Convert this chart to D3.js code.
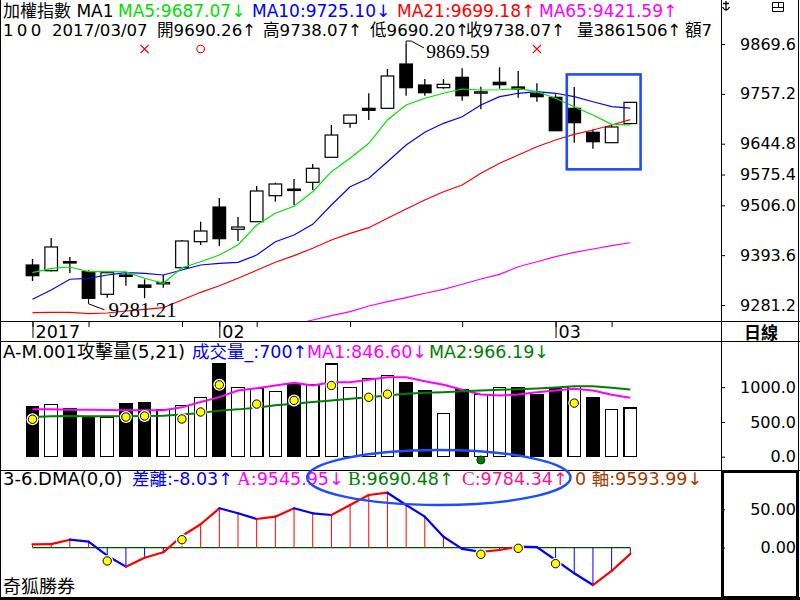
<!DOCTYPE html>
<html><head><meta charset="utf-8">
<script src="https://cdn.jsdelivr.net/npm/d3@7"></script>
<style>
body{margin:0;background:#fff}
svg{display:block}
text{white-space:pre}
</style>
</head><body>
<svg id="c" width="800" height="600"></svg>
<script>
// ---------- data ----------
const dateTickIdx = [0, 3, 8, 10, 12, 17, 23, 28, 31];
const monthStartIdx = [0, 10, 28];
const monthLabels = ["2017", "02", "03"];
const lastDate = "2017/03/07";

const opens  = [9371.4,9358.5,9379.0,9356.3,9305.3,9348.8,9326.3,9331.0,9365.3,9423.9,9502.1,9451.9,9469.0,9527.6,9542.5,9557.8,9614.2,9690.8,9724.6,9724.6,9824.5,9777.2,9771.1,9794.5,9761.0,9783.3,9772.7,9757.6,9749.4,9724.6,9670.5,9647.1,9690.26];
const highs  = [9384.9,9432.2,9389.4,9359.4,9354.5,9356.3,9339.1,9348.8,9427.7,9469.0,9522.4,9479.6,9549.5,9556.9,9565.3,9599.1,9687.0,9709.5,9758.5,9813.2,9869.59,9790.7,9790.7,9814.8,9773.3,9817.1,9808.7,9781.0,9756.2,9772.7,9677.3,9687.0,9738.07];
const lows   = [9335.3,9356.7,9353.3,9294.0,9297.7,9324.7,9296.5,9320.2,9365.3,9416.5,9414.2,9425.5,9469.0,9514.1,9506.6,9540.5,9614.2,9680.9,9698.3,9723.1,9753.0,9753.0,9768.8,9741.8,9722.4,9768.8,9748.5,9739.5,9674.1,9647.1,9633.6,9647.1,9690.20];
const closes = [9347.3,9412.0,9378.2,9296.3,9354.0,9348.1,9321.1,9332.0,9425.5,9448.0,9430.7,9457.0,9538.2,9554.0,9541.5,9589.4,9664.4,9709.5,9720.1,9797.5,9771.1,9759.8,9778.7,9753.0,9761.8,9777.8,9768.2,9750.8,9674.1,9692.2,9649.3,9682.5,9738.07];
const prevClose0 = 9390.0;

const ma5  = [9354.0,9363.9,9366.9,9356.3,9356.3,9356.0,9341.4,9330.1,9365.3,9378.8,9393.9,9416.5,9461.6,9487.9,9503.7,9536.6,9581.7,9611.9,9645.7,9698.3,9732.1,9747.2,9758.5,9768.2,9765.9,9766.5,9768.8,9762.1,9747.2,9728.3,9709.5,9688.6,9687.07];
const ma10 = [9294.1,9315.0,9339.2,9341.4,9348.8,9354.0,9352.7,9348.8,9360.1,9371.4,9375.2,9377.5,9393.9,9423.9,9439.0,9463.1,9506.6,9547.9,9566.8,9604.3,9641.9,9670.5,9690.8,9705.7,9732.1,9750.8,9758.5,9762.1,9758.5,9750.8,9739.5,9728.3,9725.10];
const ma21 = [9263.8,9264.7,9264.7,9261.6,9263.2,9267.7,9271.5,9275.1,9292.5,9309.8,9324.7,9341.4,9359.4,9377.5,9392.4,9409.0,9427.7,9442.8,9455.5,9476.7,9497.6,9517.9,9536.6,9551.7,9578.1,9600.6,9619.4,9638.1,9653.2,9666.0,9675.7,9687.0,9699.18];
const ma65 = [null,null,null,null,null,null,null,null,null,null,null,null,null,null,9237.3,9247.4,9257.1,9266.1,9279.0,9288.7,9297.7,9307.6,9316.6,9327.9,9339.8,9350.4,9367.5,9378.8,9390.1,9400.0,9407.5,9414.9,9421.59];

const priceTicks = [9869.6, 9757.2, 9644.8, 9575.4, 9506.0, 9393.6, 9281.2];
const highLabel = "9869.59";
const lowLabel = "9281.21";
const sigIdx = [6, 9, 27];
const sigType = ["x", "o", "x"];
const boxIdx = [28.6, 32.55];
const boxPrice = [9801, 9587];
const tradeVolume = "3861506";

const volumes = [724,749,691,577,563,767,781,677,734,849,1334,991,977,939,1049,1036,1334,991,1120,1165,1067,953,620,963,896,991,991,896,991,1014,849,677,700];
const volMA1 = [681,681,677,677,671,667,667,667,710,786,857,953,986,1024,1063,1024,1071,1071,1106,1143,1143,1086,1034,963,896,881,896,929,953,977,953,891,846.60];
const volMA2 = [571,581,586,581,581,581,586,591,606,629,663,681,706,739,763,786,810,834,857,881,906,920,929,943,953,963,971,981,996,1014,1014,991,966.19];
const volTicks = [1000, 500, 0];
const volDotIdx = [0,5,6,8,9,10,12,14,16,18,19,29];
const volDotVal = [539,571,586,543,643,1034,757,810,1024,855,900,771];
const volGreenDotIdx = [24];
const volGreenDotVal = [-47];

const dma = [4.4,4.6,10.4,7.8,-10.4,-24.7,-13.0,-6.0,15.2,30.5,51.3,44.8,37.4,40.4,51.3,44.8,42.6,55.6,68.6,71.6,55.6,40.4,14.3,-1.5,-5.5,-3.0,1.3,0.8,-16.0,-33.3,-48.6,-30.3,-8.03];
const dmaTicks = [50, 0];
const dmaMinorTicks = [37.5, 25];
const dmaDotIdx = [4, 8, 24, 26, 28];
const dmaDotVal = [-17.3, 10.4, -8.6, -0.8, -20.8];
const dmaA = 9545.95, dmaB = 9690.48, dmaC = 9784.34, dmaAxis = 9593.99;
const ellIdx = [14.7, 28.8];
const ellVal = [55.6, 127.2];

// ---------- setup ----------
const SANS = '"DejaVu Sans","Noto Sans CJK TC",sans-serif';
const SERIF = '"Liberation Serif","DejaVu Serif",serif';
const svg = d3.select("#c");
const n = closes.length;
const idx = d3.range(n);
const x = d3.scaleLinear().domain([0, 32]).range([32.5, 630.3]);
const yP = d3.scaleLinear().domain([9281.2, 9869.6]).range([305, 44]);
const yV = d3.scaleLinear().domain([0, 1000]).range([456.7, 387.2]);
const yD = d3.scaleLinear().domain([0, 50]).range([547.7, 509.3]);
const BW = 12.6;
const arr = (a, b) => a >= b ? "↑" : "↓";

svg.style("font-family", SANS);
svg.append("rect").attr("width", 800).attr("height", 600).attr("fill", "#fff");
const defs = svg.append("defs");
defs.append("clipPath").attr("id", "clipP").append("rect").attr("x", 0).attr("y", 0).attr("width", 721).attr("height", 321);
defs.append("clipPath").attr("id", "clipMain").append("rect").attr("x", 0).attr("y", 0).attr("width", 720).attr("height", 600);

// ---------- price panel ----------
const gP = svg.append("g").attr("clip-path", "url(#clipP)");
idx.forEach(i => {
  const cx = x(i), o = opens[i], c = closes[i];
  gP.append("line").attr("x1", cx).attr("x2", cx)
    .attr("y1", yP(highs[i])).attr("y2", yP(lows[i]))
    .attr("stroke", "#000").attr("stroke-width", 1.3);
  const top = yP(Math.max(o, c)), bot = yP(Math.min(o, c));
  gP.append("rect").attr("x", cx - BW / 2).attr("y", top)
    .attr("width", BW).attr("height", Math.max(bot - top, 1.4))
    .attr("fill", c > o ? "#fff" : "#000")
    .attr("stroke", "#000").attr("stroke-width", 1.2);
});

const maLine = d3.line().defined(d => d != null).x((d, i) => x(i)).y(d => yP(d));
[[ma21, "#ff0000"], [ma65, "#ff00ff"], [ma10, "#0000ff"], [ma5, "#00e600"]].forEach(([data, col]) => {
  gP.append("path").attr("d", maLine(data)).attr("fill", "none").attr("stroke", col).attr("stroke-width", 1.2);
});

// signal markers
sigIdx.forEach((si, k) => {
  const cx = x(si), cy = 49;
  if (sigType[k] === "x") {
    gP.append("path").attr("d", `M${cx-4},${cy-4}L${cx+4},${cy+4}M${cx+4},${cy-4}L${cx-4},${cy+4}`)
      .attr("stroke", "#ff0000").attr("stroke-width", 1.1);
  } else {
    gP.append("circle").attr("cx", cx).attr("cy", cy).attr("r", 3.8).attr("fill", "none")
      .attr("stroke", "#ff0000").attr("stroke-width", 1.1);
  }
});

// high / low labels
const hiI = d3.maxIndex(highs), loI = d3.minIndex(lows);
{
  const hx = x(hiI), hy = yP(highs[hiI]);
  gP.append("path").attr("d", `M${hx},${hy}L${hx},${hy-3}L${hx+5},${hy-3}L${hx+18},${hy+4}`)
    .attr("fill", "none").attr("stroke", "#000").attr("stroke-width", 1);
  gP.append("text").attr("x", hx + 20).attr("y", hy + 13.5).attr("font-size", 19.5)
    .style("font-family", SERIF).text(highLabel);
  const lx = x(loI), ly = yP(lows[loI]);
  gP.append("path").attr("d", `M${lx},${ly}L${lx},${ly+4.5}L${lx+16},${ly+10.5}`)
    .attr("fill", "none").attr("stroke", "#000").attr("stroke-width", 1);
  gP.append("text").attr("x", lx + 20).attr("y", ly + 18).attr("font-size", 21)
    .style("font-family", SERIF).text(lowLabel);
}

// annotation box
svg.append("rect").attr("x", x(boxIdx[0])).attr("y", yP(boxPrice[0]))
  .attr("width", x(boxIdx[1]) - x(boxIdx[0])).attr("height", yP(boxPrice[1]) - yP(boxPrice[0]))
  .attr("fill", "none").attr("stroke", "#1e4cff").attr("stroke-width", 2.6);

// ---------- volume panel ----------
const gV = svg.append("g");
idx.forEach(i => {
  const pc = i === 0 ? prevClose0 : closes[i - 1];
  const up = closes[i] >= pc;
  gV.append("rect").attr("x", x(i) - BW / 2).attr("y", yV(volumes[i]))
    .attr("width", BW).attr("height", yV(0) - yV(volumes[i]))
    .attr("fill", up ? "#fff" : "#000").attr("stroke", "#000").attr("stroke-width", 1.1)
    .attr("shape-rendering", "crispEdges");
});
const vLine = d3.line().x((d, i) => x(i)).y(d => yV(d));
gV.append("path").attr("d", vLine(volMA1)).attr("fill", "none").attr("stroke", "#ff00ff").attr("stroke-width", 2);
gV.append("path").attr("d", vLine(volMA2)).attr("fill", "none").attr("stroke", "#008000").attr("stroke-width", 2);
volDotIdx.forEach((di, k) => {
  gV.append("circle").attr("cx", x(di)).attr("cy", yV(volDotVal[k])).attr("r", 6).attr("fill", "#fff");
  gV.append("circle").attr("cx", x(di)).attr("cy", yV(volDotVal[k])).attr("r", 4.2)
    .attr("fill", "#ffff00").attr("stroke", "#000").attr("stroke-width", 1);
});
volGreenDotIdx.forEach((di, k) => {
  gV.append("circle").attr("cx", x(di)).attr("cy", yV(volGreenDotVal[k])).attr("r", 4)
    .attr("fill", "#008000").attr("stroke", "#003000").attr("stroke-width", 1);
});

// ---------- DMA panel ----------
const gD = svg.append("g");
gD.append("line").attr("x1", x(0)).attr("x2", x(n - 1)).attr("y1", yD(0)).attr("y2", yD(0))
  .attr("stroke", "#005000").attr("stroke-width", 1.2);
idx.forEach(i => {
  gD.append("line").attr("x1", x(i)).attr("x2", x(i)).attr("y1", yD(0)).attr("y2", yD(dma[i]))
    .attr("stroke", dma[i] >= 0 ? "#ff0000" : "#0000ff").attr("stroke-width", 1);
});
for (let i = 1; i < n; i++) {
  gD.append("line").attr("x1", x(i - 1)).attr("y1", yD(dma[i - 1])).attr("x2", x(i)).attr("y2", yD(dma[i]))
    .attr("stroke", dma[i] >= dma[i - 1] ? "#ff0000" : "#0000ff").attr("stroke-width", 2.2)
    .attr("stroke-linecap", "round");
}
dmaDotIdx.forEach((di, k) => {
  gD.append("circle").attr("cx", x(di)).attr("cy", yD(dmaDotVal[k])).attr("r", 6).attr("fill", "#fff");
  gD.append("circle").attr("cx", x(di)).attr("cy", yD(dmaDotVal[k])).attr("r", 4.2)
    .attr("fill", "#ffff00").attr("stroke", "#000").attr("stroke-width", 1);
});

// ---------- frames ----------
const frame = svg.append("g").attr("stroke", "#000").attr("shape-rendering", "crispEdges");
frame.append("line").attr("x1", 0.5).attr("x2", 0.5).attr("y1", 0).attr("y2", 600).attr("stroke-width", 1.5);
frame.append("line").attr("x1", 798.5).attr("x2", 798.5).attr("y1", 0).attr("y2", 600).attr("stroke-width", 1.5);
frame.append("line").attr("x1", 721.5).attr("x2", 721.5).attr("y1", 0).attr("y2", 600);
[321.5, 341.5, 470.5].forEach(yy => frame.append("line").attr("x1", 0).attr("x2", 800).attr("y1", yy).attr("y2", yy));
frame.append("line").attr("x1", 0).attr("x2", 800).attr("y1", 598.5).attr("y2", 598.5).attr("stroke-width", 3);
frame.append("rect").attr("x", 722.5).attr("y", 471.5).attr("width", 75).attr("height", 125.5)
  .attr("fill", "none").attr("stroke-width", 3);

// ---------- axes ----------
function styleRight(g) {
  g.select(".domain").remove();
  g.attr("font-family", null).attr("font-size", null);
  g.selectAll("line").attr("stroke", "#000");
  g.selectAll("text").attr("x", 75).attr("text-anchor", "end").attr("font-size", 16).attr("fill", "#000");
}
svg.append("g").attr("transform", "translate(721,0)")
  .call(d3.axisRight(yP).tickValues(priceTicks).tickSize(4).tickFormat(d3.format(".1f")))
  .call(styleRight);
svg.append("g").attr("transform", "translate(721,0)")
  .call(d3.axisRight(yV).tickValues(volTicks).tickSize(4).tickFormat(d3.format(".1f")))
  .call(styleRight);
svg.append("g").attr("transform", "translate(721,0)")
  .call(d3.axisRight(yD).tickValues(dmaTicks).tickSize(4).tickFormat(d3.format(".2f")))
  .call(styleRight);
svg.append("g").attr("transform", "translate(721,0)")
  .call(d3.axisRight(yD).tickValues(dmaMinorTicks).tickSize(2).tickFormat(""))
  .call(g => { g.select(".domain").remove(); g.selectAll("line").attr("stroke", "#000"); });

// date axis
svg.append("g").attr("transform", "translate(0,321)")
  .call(d3.axisBottom(x).tickValues(dateTickIdx).tickSize(6).tickFormat(""))
  .call(g => { g.select(".domain").remove(); g.selectAll("line").attr("stroke", "#000"); });
svg.append("g").attr("transform", "translate(0,321)")
  .call(d3.axisBottom(x).tickValues(monthStartIdx).tickSize(17).tickFormat((d, i) => monthLabels[i]))
  .call(g => {
    g.select(".domain").remove(); g.attr("font-family", null).attr("font-size", null);
    g.selectAll("line").attr("stroke", "#000");
    g.selectAll("text").attr("x", 2.5).attr("y", 16.5).attr("dy", 0).attr("text-anchor", "start")
      .attr("font-size", 17.5).attr("fill", "#000");
  });

svg.append("text").attr("x", 761).attr("y", 339).attr("text-anchor", "middle").attr("font-size", 17)
  .attr("font-weight", "bold").text("日線");

// icons
svg.append("path").attr("d", "M726,1V10M723,3.5H729M722.5,7Q726,13 729.5,7").attr("fill", "none").attr("stroke", "#000").attr("stroke-width", 1.3);
svg.append("path").attr("d", "M772.5,2.5H783.5V11.5H772.5ZM772.5,7.5H783.5M778.5,2.5V7.5").attr("fill", "none").attr("stroke", "#000").attr("stroke-width", 1);

// ---------- header texts ----------
const hdr = svg.append("g").attr("clip-path", "url(#clipMain)");
function seg(xp, yp, size, s, c, fam) {
  const t = hdr.append("text").attr("x", xp).attr("y", yp).attr("font-size", size).attr("fill", c).text(s);
  if (fam) t.style("font-family", fam);
  return t;
}
const L = n - 1;
const y1 = 17, y2 = 36, FS1 = 17, FS2 = 16.6;
seg(3, y1, FS1, "加權指數 MA1", "#000");
seg(118, y1, FS1, `MA5:${ma5[L].toFixed(2)}${arr(ma5[L], ma5[L-1])}`, "#00e000");
seg(252, y1, FS1, `MA10:${ma10[L].toFixed(2)}${arr(ma10[L], ma10[L-1])}`, "#0000ff");
seg(397, y1, FS1, `MA21:${ma21[L].toFixed(2)}${arr(ma21[L], ma21[L-1])}`, "#ff0000");
seg(539, y1, FS1, `MA65:${ma65[L].toFixed(2)}${arr(ma65[L], ma65[L-1])}`, "#ff00ff");

seg(3, y2, FS2, "1 0 0", "#000").attr("letter-spacing", -1);
seg(52, y2, FS2, lastDate, "#000");
seg(157, y2, FS2, `開${opens[L].toFixed(2)}${arr(opens[L], opens[L-1])}`, "#000");
seg(263, y2, FS2, `高${highs[L].toFixed(2)}${arr(highs[L], highs[L-1])}`, "#000");
seg(370, y2, FS2, `低${lows[L].toFixed(2)}${arr(lows[L], lows[L-1])}`, "#000");
seg(466, y2, FS2, `收${closes[L].toFixed(2)}${arr(closes[L], closes[L-1])}`, "#000");
seg(577, y2, FS2, `量${tradeVolume}↑`, "#000");
seg(685, y2, FS2, "額7", "#000");

const yv = 358;
seg(3, yv, 18, "A-M.001攻擊量(5,21)", "#000");
seg(192, yv, 17.5, `成交量_:${volumes[L]}${arr(volumes[L], volumes[L-1])}`, "#0000ff");
seg(307, yv, 17.5, `MA1:${volMA1[L].toFixed(2)}${arr(volMA1[L], volMA1[L-1])}`, "#ff00ff");
seg(429, yv, 17.5, `MA2:${volMA2[L].toFixed(2)}${arr(volMA2[L], volMA2[L-1])}`, "#008000");

const yd = 485;
seg(3, yd, 18, "3-6.DMA(0,0)", "#000");
seg(132, yd, 17.5, `差離:${dma[L].toFixed(2)}${arr(dma[L], dma[L-1])}`, "#0000ff");
function abc(xp, letter, val, arrow, col) {
  const t = hdr.append("text").attr("x", xp).attr("y", yd).attr("font-size", 17.5).attr("fill", col);
  t.append("tspan").style("font-family", SERIF).attr("font-size", 19).text(letter);
  t.append("tspan").text(`:${val.toFixed(2)}${arrow}`);
}
abc(237, "A", dmaA, "↓", "#ff00ff");
abc(348, "B", dmaB, "↑", "#008000");
abc(462, "C", dmaC, "↑", "#ff1493");
seg(575, yd, 17.5, `0 軸:${dmaAxis.toFixed(2)}↓`, "#a03c00");
seg(3, 593, 18, "奇狐勝券", "#000");

// ellipse annotation
svg.append("ellipse")
  .attr("cx", (x(ellIdx[0]) + x(ellIdx[1])) / 2).attr("cy", (yD(ellVal[0]) + yD(ellVal[1])) / 2)
  .attr("rx", (x(ellIdx[1]) - x(ellIdx[0])) / 2).attr("ry", (yD(ellVal[0]) - yD(ellVal[1])) / 2)
  .attr("fill", "none").attr("stroke", "#1e4cff").attr("stroke-width", 2.4);
</script>
</body></html>
